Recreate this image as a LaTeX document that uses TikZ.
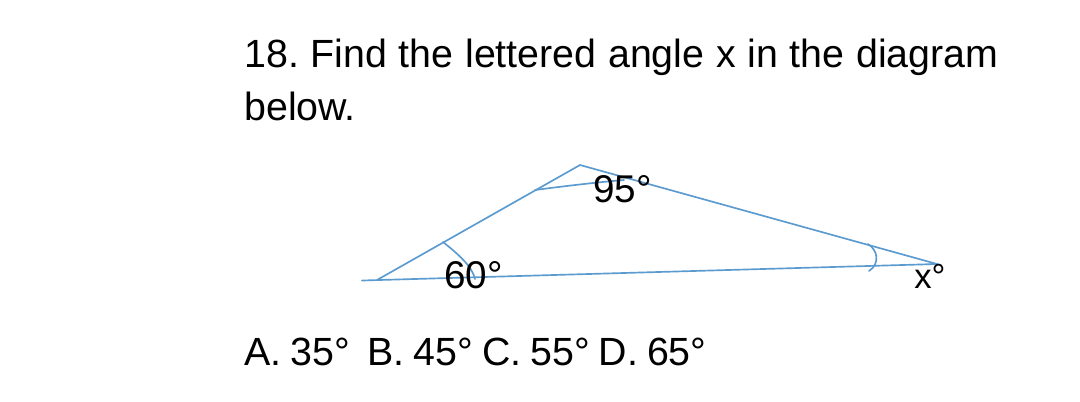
\documentclass[tikz,border=0pt]{standalone}
\usepackage{fontspec}
\setmainfont{Liberation Sans}
\definecolor{lineblue}{HTML}{5B9BD0}
\tikzset{
  figline/.style={draw=lineblue,line width=1.25pt,line cap=round},
  bodytext/.style={inner sep=0pt,anchor=base west,text=black,font=\fontsize{29.5}{33}\selectfont\frenchspacing},
  angletext/.style={inner sep=0pt,anchor=base west,text=black,font=\fontsize{29}{30}\selectfont}
}
\begin{document}
\begin{tikzpicture}[x=0.75pt,y=-0.75pt]
\useasboundingbox (0,0) rectangle (1080,401);
\coordinate (tail) at (362,280.5);
\coordinate (A) at (377,280);
\coordinate (B) at (580,165);
\coordinate (C) at (937,264);
\coordinate (a1) at (443,242);
\coordinate (a2) at (475,279);
\coordinate (b1) at (535,190);
\coordinate (b2) at (624,180);
\coordinate (c1) at (868,244);
\coordinate (c2) at (869,271);
\draw[figline] (tail) -- (C) -- (B) -- (A);
\draw[figline] (a1) .. controls (458,254) and (472,266) .. (a2);
\draw[figline] (b1) .. controls (565,186) and (600,182) .. (b2);
\draw[figline] (c1) .. controls (878,250) and (880,264) .. (c2);
\node[bodytext] (t1) at (244,67) {\spaceskip=8.8pt 18. Find the lettered angle x in the diagram};
\node[bodytext] (t2) at (244,120) {below.};
\node[angletext] (n95) at (593,202) {95°};
\node[angletext] (n60) at (444,288) {60°};
\node[angletext,font=\fontsize{26}{30}\selectfont] (nx) at (914,288) {x°};
\node[bodytext] (t3) at (244,365) {\spaceskip=6.7pt A. 35°\ \ B. 45° C. 55° D. 65°};
\end{tikzpicture}
\end{document}
